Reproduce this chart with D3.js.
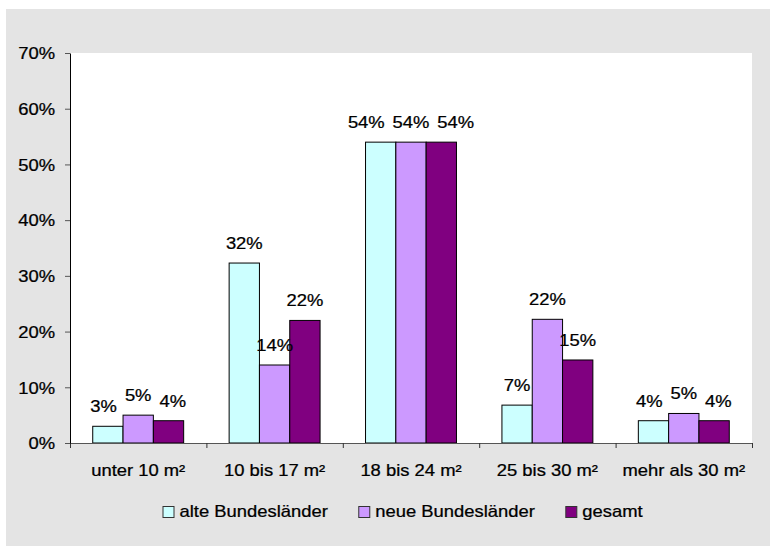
<!DOCTYPE html>
<html>
<head>
<meta charset="utf-8">
<script src="https://cdn.jsdelivr.net/npm/d3@7"></script>
<style>
  html, body { margin: 0; padding: 0; background: #fff; }
  svg { display: block; font-family: "Liberation Sans", Arial, Helvetica, sans-serif; }
</style>
</head>
<body>
<div id="chart"></div>
<script>
/* ── Data ─────────────────────────────────────────────────────── */

const categories = ['unter 10 m²', '10 bis 17 m²', '18 bis 24 m²', '25 bis 30 m²', 'mehr als 30 m²'];
const seriesNames = ['alte Bundesländer', 'neue Bundesländer', 'gesamt'];
const alteValues = [3.0, 32.3, 54.0, 6.8, 4.0];
const neueValues = [5.0, 14.0, 54.0, 22.2, 5.3];
const gesamtValues = [4.0, 22.0, 54.0, 14.9, 4.0];
const yTicks = [0, 10, 20, 30, 40, 50, 60, 70];

const seriesValues = [alteValues, neueValues, gesamtValues];
const seriesColors = ['#ccffff', '#cc99ff', '#800080'];

/* ── Layout ───────────────────────────────────────────────────── */

const W = 776, H = 547;
const plot = { left: 70, right: 752, top: 53, bottom: 443 };
const SX = 1.15;          // reference text is horizontally stretched
const FONT = 16;

const svg = d3.select('#chart').append('svg')
  .attr('width', W)
  .attr('height', H);

svg.append('rect')
  .attr('x', 6).attr('y', 9)
  .attr('width', 764).attr('height', 537)
  .attr('fill', '#e4e4e4');

svg.append('rect')
  .attr('x', plot.left).attr('y', plot.top)
  .attr('width', plot.right - plot.left)
  .attr('height', plot.bottom - plot.top)
  .attr('fill', '#fff');

/* ── Scales ───────────────────────────────────────────────────── */

const x = d3.scaleBand()
  .domain(categories)
  .range([plot.left, plot.right])
  .paddingInner(1 / 3)
  .paddingOuter(1 / 6);

const xs = d3.scaleBand()
  .domain(d3.range(seriesNames.length))
  .range([0, x.bandwidth()]);

const y = d3.scaleLinear()
  .domain([0, 70])
  .range([plot.bottom, plot.top]);

// boundaries between categories, for the x axis ticks
const xEdges = d3.scaleLinear()
  .domain([0, categories.length])
  .range([plot.left, plot.right]);

function stretchedText(parent, px, py, text, anchor) {
  return parent.append('text')
    .attr('transform', `translate(${px},${py}) scale(${SX},1)`)
    .attr('text-anchor', anchor || 'middle')
    .attr('font-size', FONT)
    .attr('fill', '#000')
    .attr('stroke', '#000')
    .attr('stroke-width', 0.25)
    .text(text);
}

/* ── Bars ─────────────────────────────────────────────────────── */

const groups = svg.append('g').selectAll('g')
  .data(categories)
  .join('g')
  .attr('transform', d => `translate(${x(d)},0)`);

groups.selectAll('rect')
  .data((d, i) => seriesValues.map((vals, s) => ({ s, v: vals[i] })))
  .join('rect')
  .attr('x', d => xs(d.s))
  .attr('y', d => y(d.v))
  .attr('width', xs.bandwidth())
  .attr('height', d => y(0) - y(d.v))
  .attr('fill', d => seriesColors[d.s])
  .attr('stroke', '#000')
  .attr('stroke-width', 1);

/* ── Axes ─────────────────────────────────────────────────────── */

const xAxis = svg.append('g')
  .attr('transform', `translate(0,${plot.bottom})`)
  .call(d3.axisBottom(xEdges)
    .tickValues(d3.range(categories.length + 1))
    .tickSize(5)
    .tickSizeOuter(0)
    .tickFormat(''));
xAxis.select('.domain').attr('stroke', '#555');
xAxis.selectAll('.tick line').attr('stroke', '#333');

const yAxis = svg.append('g')
  .attr('transform', `translate(${plot.left},0)`)
  .call(d3.axisLeft(y)
    .tickValues(yTicks)
    .tickSize(5)
    .tickSizeOuter(0)
    .tickFormat(d => d + '%'));
yAxis.select('.domain').attr('stroke', '#000');
yAxis.selectAll('.tick line').attr('stroke', '#555');
yAxis.selectAll('.tick text')
  .attr('x', -15 / SX)
  .attr('dy', '0.36em')
  .attr('transform', `scale(${SX},1)`)
  .attr('font-size', FONT)
  .attr('font-family', '"Liberation Sans", Arial, Helvetica, sans-serif')
  .attr('fill', '#000')
  .attr('stroke', '#000')
  .attr('stroke-width', 0.25);

// category labels
categories.forEach(c => {
  stretchedText(svg, x(c) + x.bandwidth() / 2, 476, c);
});

/* ── Value labels ─────────────────────────────────────────────── */

const labelLayer = svg.append('g');
categories.forEach((c, i) => {
  // measure first, then push apart labels that would collide (as Excel does)
  const items = seriesValues.map((vals, s) => {
    const v = vals[i];
    const t = stretchedText(labelLayer, 0, 0, Math.round(v) + '%');
    return { t, v, cx: x(c) + xs(s) + xs.bandwidth() / 2, w: t.node().getComputedTextLength() * SX };
  });
  const gap = 8;
  for (let pass = 0; pass < 4; pass++) {
    for (let k = 0; k < items.length - 1; k++) {
      const a = items[k], b = items[k + 1];
      if (Math.abs(y(a.v) - y(b.v)) > 16) continue;
      const need = (a.w + b.w) / 2 + gap - (b.cx - a.cx);
      if (need > 0) { a.cx -= need / 2; b.cx += need / 2; }
    }
  }
  items.forEach(d => {
    d.t.attr('transform', `translate(${d.cx},${y(d.v) - 14}) scale(${SX},1)`);
  });
});

/* ── Legend ───────────────────────────────────────────────────── */

const legend = svg.append('g');
let lx = 163;
seriesNames.forEach((name, s) => {
  legend.append('rect')
    .attr('x', lx).attr('y', 506.5)
    .attr('width', 11).attr('height', 11)
    .attr('fill', seriesColors[s])
    .attr('stroke', '#333')
    .attr('stroke-width', 1);
  const t = stretchedText(legend, lx + 16.5, 517, name, 'start');
  const w = t.node().getComputedTextLength() * SX;
  lx = lx + 16.5 + w + 31;
});
</script>
</body>
</html>
